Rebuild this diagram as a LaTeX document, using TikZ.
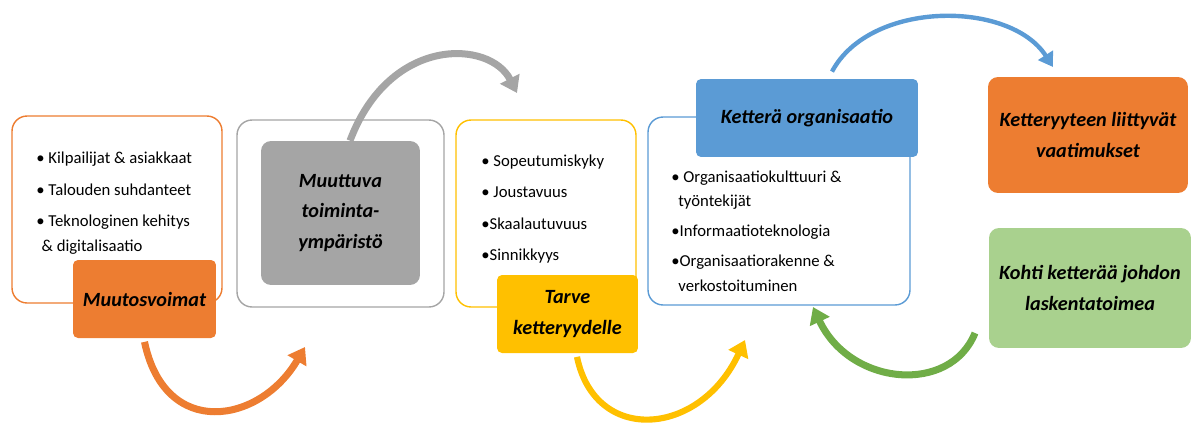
\documentclass[tikz,border=0pt]{standalone}
\usepackage{fontspec}
\setmainfont{Carlito}
\usetikzlibrary{arrows.meta}
\definecolor{orng}{HTML}{ED7D31}
\definecolor{gry}{HTML}{A5A5A5}
\definecolor{ylw}{HTML}{FFC000}
\definecolor{blu}{HTML}{5B9BD5}
\definecolor{grn}{HTML}{A9D18E}
\definecolor{grnarr}{HTML}{70AD47}
\begin{document}
\begin{tikzpicture}[x=0.02cm, y=-0.02cm,
  frame/.style={draw=#1, line width=0.8pt, fill=white, rounded corners=0.3cm},
  tag/.style={fill=#1, rounded corners=0.1cm, align=center,
    font=\fontsize{11.5}{17.5}\selectfont\bfseries\itshape},
  bullets/.style={anchor=west, align=left, inner sep=0pt,
    font=\fontsize{9.5}{14}\selectfont},
  arr/.style={draw=#1, line width=4pt, -{Triangle[length=0.32cm, width=0.42cm]}}]
\useasboundingbox (0,0) rectangle (1197,427);

\node[frame=orng, minimum width=4.2cm, minimum height=3.74cm] (muutosbox) at (117,209.5) {};
\node[frame=gry, minimum width=4.14cm, minimum height=3.74cm] (toimbox) at (340.5,213.5) {};
\node[frame=ylw, minimum width=3.6cm, minimum height=3.74cm] (tarvebox) at (546,213.5) {};
\node[frame=blu, minimum width=5.24cm, minimum height=3.76cm] (kettbox) at (779,211) {};

\node[bullets] (muutoslist) at (36,203) {• Kilpailijat \& asiakkaat\\[4pt]
  • Talouden suhdanteet\\[4pt] • Teknologinen kehitys\\ \hspace{3pt}\& digitalisaatio};
\node[bullets] (tarvelist) at (481,209) {• Sopeutumiskyky\\[4pt] • Joustavuus\\[4pt]
  •Skaalautuvuus\\[4pt] •Sinnikkyys};
\node[bullets] (kettlist) at (671,231) {• Organisaatiokulttuuri \&\\ \hspace{4pt}työntekijät\\[3pt]
  •Informaatioteknologia\\[3pt] •Organisaatiorakenne \&\\ \hspace{4pt}verkostoituminen};

\node[tag=orng, minimum width=2.86cm, minimum height=1.56cm] (muutos) at (144.5,299) {Muutosvoimat};
\node[tag=gry, rounded corners=0.2cm, minimum width=3.18cm, minimum height=2.88cm] (toim) at (340.5,213) {Muuttuva\\toiminta-\\ympäristö};
\node[tag=ylw, minimum width=2.82cm, minimum height=1.56cm] (tarve) at (567.5,314) {Tarve\\ketteryydelle};
\node[tag=blu, minimum width=4.44cm, minimum height=1.56cm] (kett) at (807,118) {Ketterä organisaatio};
\node[tag=orng, rounded corners=0.2cm, minimum width=4cm, minimum height=2.32cm] (vaat) at (1088,135) {Ketteryyteen liittyvät\\vaatimukset};
\node[tag=grn, rounded corners=0.2cm, minimum width=4.04cm, minimum height=2.4cm] (kohti) at (1090,288) {Kohti ketterää johdon\\laskentatoimea};

\coordinate (muutosend) at (305,347);
\coordinate (toimend) at (517,93);
\coordinate (tarveend) at (745,340);
\coordinate (kettend) at (1053,67);
\coordinate (kohtistart) at (975,333);
\coordinate (kohtiend) at (813,307);

\draw[arr=orng] ([yshift=-2pt]muutos.south) .. controls (165,440) and (260,424) .. (muutosend);
\draw[arr=gry] ([xshift=0.19cm]toim.north) .. controls (390,35) and (490,40) .. (toimend);
\draw[arr=ylw, line width=3.5pt] ([xshift=0.19cm, yshift=-2pt]tarve.south) .. controls (595,445) and (700,437) .. (tarveend);
\draw[arr=blu, line width=2.5pt, -{Triangle[length=0.28cm, width=0.34cm]}] ([xshift=0.5cm, yshift=4pt]kett.north) .. controls (870,0) and (1010,0) .. (kettend);
\draw[arr=grnarr] (kohtistart) .. controls (950,395) and (850,386) .. (kohtiend);
\end{tikzpicture}
\end{document}
